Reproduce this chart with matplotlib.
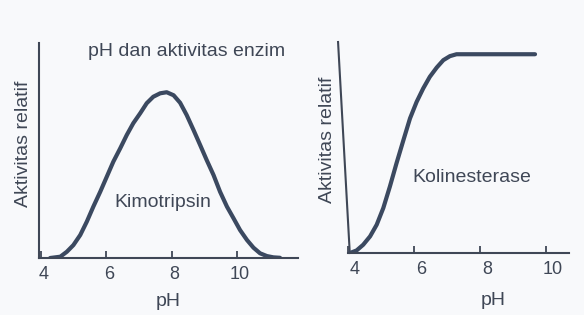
import matplotlib
matplotlib.use("Agg")
import matplotlib.pyplot as plt
from matplotlib.lines import Line2D
from matplotlib.transforms import ScaledTranslation

# ---- data ----
kimo_ph = [4.29, 4.60, 4.80, 5.00, 5.21, 5.41, 5.61, 5.82, 6.02, 6.22,
           6.43, 6.63, 6.83, 7.04, 7.24, 7.44, 7.65, 7.85, 8.06, 8.26,
           8.46, 8.67, 8.87, 9.07, 9.28, 9.48, 9.69, 9.89, 10.09, 10.30,
           10.50, 10.70, 10.91, 11.11, 11.31]
kimo_act = [0.0, 0.006, 0.029, 0.060, 0.107, 0.169, 0.239, 0.308, 0.378, 0.448,
            0.510, 0.572, 0.627, 0.673, 0.720, 0.750, 0.766, 0.771, 0.757, 0.722,
            0.665, 0.595, 0.526, 0.456, 0.386, 0.308, 0.239, 0.185, 0.130, 0.084,
            0.048, 0.022, 0.009, 0.003, 0.001]

koli_ph = [4.06, 4.26, 4.46, 4.67, 4.87, 5.07, 5.27, 5.47, 5.68, 5.88,
           6.08, 6.28, 6.48, 6.69, 6.89, 7.09, 7.29, 7.49, 9.67]
koli_act = [0.0, 0.012, 0.039, 0.079, 0.134, 0.213, 0.315, 0.425, 0.535, 0.638,
            0.716, 0.780, 0.835, 0.879, 0.914, 0.933, 0.942, 0.942, 0.942]

ticks = [4, 6, 8, 10]
tick_labels = ["4", "6", "8", "10"]

title = "pH dan aktivitas enzim"
ylab = "Aktivitas relatif"
xlab = "pH"
name_left = "Kimotripsin"
name_right = "Kolinesterase"

# ---- style ----
plt.rcParams['font.family'] = ['Liberation Sans', 'DejaVu Sans']
bg = '#f8f9fb'
ink = '#3f4756'
curve = '#3b4960'

W, H = 584, 315
fig = plt.figure(figsize=(W / 100, H / 100), dpi=100, facecolor=bg)

def px_axes(x0, y0, x1, y1):
    return fig.add_axes([x0 / W, 1 - y1 / H, (x1 - x0) / W, (y1 - y0) / H])

def style(ax, label_dx):
    ax.set_facecolor('none')
    for s in ('top', 'right'):
        ax.spines[s].set_visible(False)
    for s in ('left', 'bottom'):
        ax.spines[s].set_color(ink)
        ax.spines[s].set_linewidth(1.5)
    ax.set_xticks(ticks)
    ax.set_xticklabels(tick_labels)
    ax.tick_params(axis='x', direction='in', length=5, width=1.3, color=ink,
                   labelcolor=ink, labelsize=13, pad=6)
    off = ScaledTranslation(label_dx / 100, 0, fig.dpi_scale_trans)
    for lbl in ax.get_xticklabels():
        lbl.set_transform(lbl.get_transform() + off)
    ax.set_yticks([])
    ax.set_ylim(0, 1)

# left panel
ax1 = px_axes(39, 43, 298, 258)
style(ax1, 3)
ax1.set_xlim(3.95, 11.86)
ax1.plot(kimo_ph, kimo_act, color=curve, lw=3, solid_capstyle='round',
         solid_joinstyle='round')
ax1.set_xlabel(xlab, fontsize=14, color=ink)
ax1.xaxis.set_label_coords(0.498, -0.163)
ax1.set_ylabel(ylab, fontsize=14, color=ink, va='center')
ax1.yaxis.set_label_coords(-0.058, 0.533)
ax1.text(0.479, 0.26, name_left, transform=ax1.transAxes, fontsize=14,
         color=ink, ha='center', va='center')

# right panel
ax2 = px_axes(348, 42, 569, 253)
style(ax2, 7)
ax2.spines['left'].set_visible(False)
ax2.set_xlim(4.0, 10.7)
ax2.add_line(Line2D([0.008, -0.045], [0, 1], transform=ax2.transAxes,
                    color=ink, lw=1.5, clip_on=False))
ax2.plot(koli_ph, koli_act, color=curve, lw=3, solid_capstyle='round',
         solid_joinstyle='round')
ax2.set_xlabel(xlab, fontsize=14, color=ink)
ax2.xaxis.set_label_coords(0.656, -0.185)
ax2.set_ylabel(ylab, fontsize=14, color=ink, va='center')
ax2.yaxis.set_label_coords(-0.095, 0.536)
ax2.text(0.561, 0.36, name_right, transform=ax2.transAxes, fontsize=14,
         color=ink, ha='center', va='center')

fig.suptitle(title, x=187 / W, y=1 - 51 / H, fontsize=14, color=ink, va='center')

fig.savefig('out.png', dpi=100, facecolor=bg)
